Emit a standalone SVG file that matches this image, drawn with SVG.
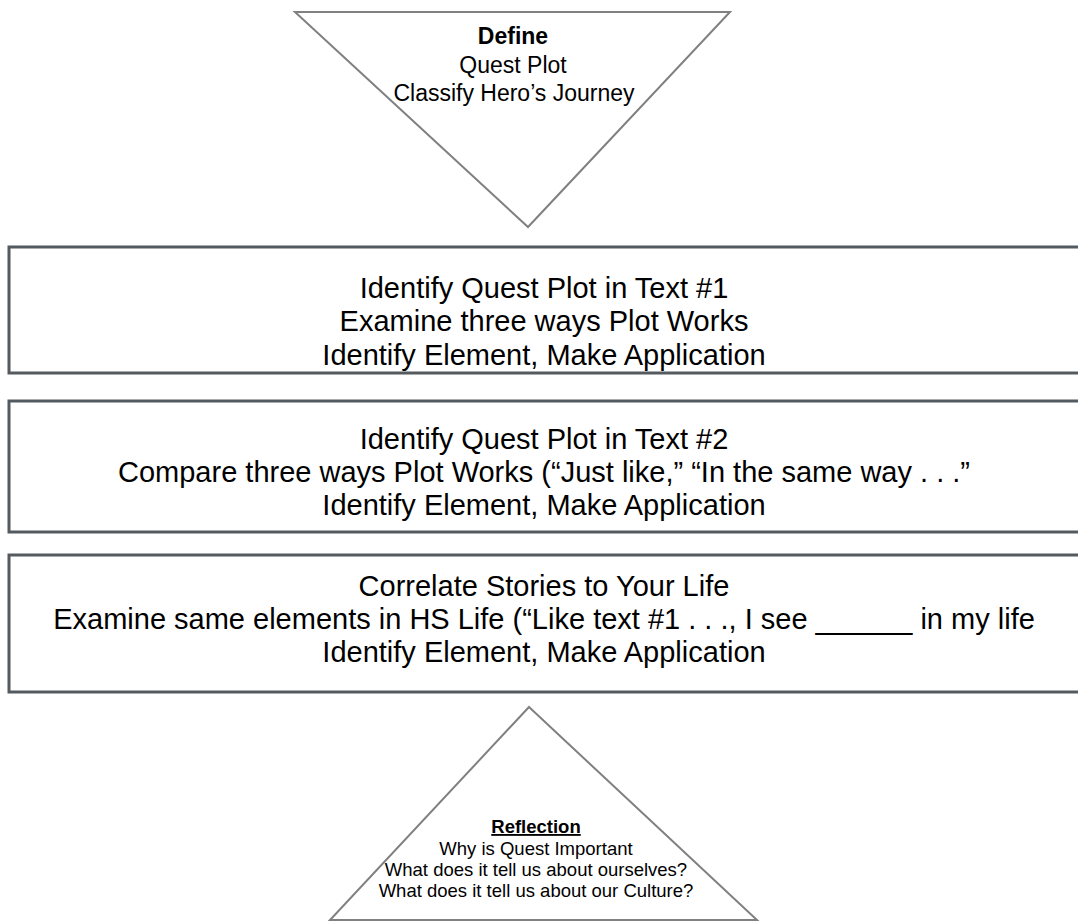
<svg xmlns="http://www.w3.org/2000/svg" width="1078" height="922" viewBox="0 0 1078 922">
<style>
.tri{fill:#fff;stroke:#808080;stroke-width:2}
.box{fill:#fff;stroke:#555a5f;stroke-width:3}
.t{font-family:"Liberation Sans",Arial,sans-serif;fill:#000;text-anchor:middle}
.big{font-size:29px}
.mid{font-size:23px}
.sm{font-size:18.5px}
</style>
<defs>
<clipPath id="c1"><rect x="9" y="247" width="1075" height="125"/></clipPath>
</defs>
<rect width="1078" height="922" fill="#fff"/>
<g id="define">
<polygon class="tri" points="295,12 730,12 528,227"/>
<text class="t mid" x="513" y="44" font-weight="bold">Define</text>
<text class="t mid" x="513" y="73">Quest Plot</text>
<text class="t mid" x="514" y="101">Classify Hero’s Journey</text>
</g>
<g id="text1">
<rect class="box" x="9" y="247" width="1075" height="126"/>
<g clip-path="url(#c1)">
<text class="t big" x="544" y="298">Identify Quest Plot in Text #1</text>
<text class="t big" x="544" y="331">Examine three ways Plot Works</text>
<text class="t big" x="544" y="365">Identify Element, Make Application</text>
</g>
</g>
<g id="text2">
<rect class="box" x="9" y="401" width="1075" height="131"/>
<text class="t big" x="544" y="449">Identify Quest Plot in Text #2</text>
<text class="t big" x="544" y="482">Compare three ways Plot Works (“Just like,” “In the same way . . .”</text>
<text class="t big" x="544" y="515">Identify Element, Make Application</text>
</g>
<g id="life">
<rect class="box" x="9" y="555" width="1075" height="137"/>
<text class="t big" x="544" y="596">Correlate Stories to Your Life</text>
<text class="t big" x="544" y="629">Examine same elements in HS Life (“Like text #1 . . ., I see ______ in my life</text>
<text class="t big" x="544" y="662">Identify Element, Make Application</text>
</g>
<g id="reflection">
<polygon class="tri" points="529,707 757,920 330,920"/>
<text class="t sm" x="536" y="833" font-weight="bold" text-decoration="underline">Reflection</text>
<text class="t sm" x="536" y="855">Why is Quest Important</text>
<text class="t sm" x="536" y="876">What does it tell us about ourselves?</text>
<text class="t sm" x="536" y="897">What does it tell us about our Culture?</text>
</g>
<g id="connectors"/>
</svg>
